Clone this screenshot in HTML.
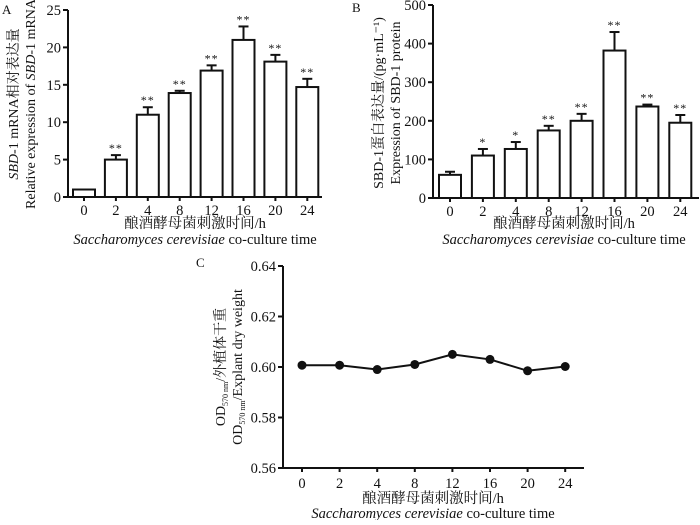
<!DOCTYPE html>
<html><head><meta charset="utf-8"><style>
body{margin:0;background:#fff;}
svg text{font-family:"Liberation Serif","Noto Serif CJK SC",serif;fill:#111;}
</style></head><body>
<svg width="700" height="520" viewBox="0 0 700 520" id="fig">
<g id="A"></g>
<g id="B"></g>
<g id="C"></g>
</svg>
<script>
const categories=["0","2","4","8","12","16","20","24"];
const mrnaValues=[1,5,11,13.9,16.9,21,18.1,14.7];
const mrnaErrors=[0,0.6,1,0.3,0.7,1.8,0.9,1.1];
const mrnaStars=["","**","**","**","**","**","**","**"];
const mrnaTicks=[0,5,10,15,20,25];
const protValues=[60,110,127,175,200,382,237,195];
const protErrors=[8,17,18,12,18,48,5,20];
const protStars=["","*","*","**","**","**","**","**"];
const protTicks=[0,100,200,300,400,500];
const odValues=[0.6007,0.6007,0.599,0.601,0.605,0.603,0.5985,0.6002];
const odTicks=[0.56,0.58,0.60,0.62,0.64];
const odTickLabels=["0.56","0.58","0.60","0.62","0.64"];

const NS="http://www.w3.org/2000/svg";
function mk(p,t,a,txt){const e=document.createElementNS(NS,t);for(const k in a)e.setAttribute(k,a[k]);if(txt!==undefined)e.textContent=txt;p.appendChild(e);return e;}

function barChart(g,o){
  const y=v=>o.y0-(v-o.vmin)/(o.vmax-o.vmin)*(o.y0-o.y1);
  const x=i=>o.x0c+i*o.step;
  o.vals.forEach((v,i)=>{
    const top=y(v+o.errs[i]);
    if(o.errs[i]>0){
      const l=mk(g,'line',{x1:x(i),x2:x(i),y1:y(v),y2:top,stroke:'#111','stroke-width':2});
      
      
      const c=mk(g,'line',{x1:x(i)-5,x2:x(i)+5,y1:top,y2:top,stroke:'#111','stroke-width':2});
      
      
    }
    const r=mk(g,'rect',{x:x(i)-11,y:y(v),width:22,height:o.y0-y(v),fill:'#fff',stroke:'#111','stroke-width':2});
    
    
    if(o.stars[i]){
      const s=mk(g,'text',{x:x(i),y:top-3,'text-anchor':'middle','font-size':12,'letter-spacing':1},o.stars[i]);
      
      
    }
    const t=mk(g,'line',{x1:x(i),x2:x(i),y1:o.y0,y2:o.y0+4,stroke:'#111','stroke-width':2});
    
    
    const tl=mk(g,'text',{x:x(i),y:o.y0+18,'text-anchor':'middle','font-size':14.5},categories[i]);
    
    
  });
  const ax=mk(g,'path',{d:`M${o.ax},${o.y1}V${o.y0}H${o.axEnd}`,fill:'none',stroke:'#111','stroke-width':2});
  
  
  o.ticks.forEach(v=>{
    const t=mk(g,'line',{x1:o.ax-5,x2:o.ax,y1:y(v),y2:y(v),stroke:'#111','stroke-width':2});
    
    
    const tl=mk(g,'text',{x:o.ax-7,y:y(v)+5,'text-anchor':'end','font-size':14.5},String(v));
    
    
  });
}

const A=document.getElementById('A');
barChart(A,{vals:mrnaValues,errs:mrnaErrors,stars:mrnaStars,ticks:mrnaTicks,vmin:0,vmax:25,y0:197,y1:10,ax:68,axEnd:322,x0c:84,step:31.9});
const B=document.getElementById('B');
barChart(B,{vals:protValues,errs:protErrors,stars:protStars,ticks:protTicks,vmin:0,vmax:500,y0:198,y1:5,ax:433,axEnd:699,x0c:450,step:32.9});

const C=document.getElementById('C');
const cy=v=>468-(v-0.56)/(0.64-0.56)*(468-266);
const cx=i=>302+i*37.6;
let d='';
odValues.forEach((v,i)=>{d+=(i?'L':'M')+cx(i)+','+cy(v);});
const line=mk(C,'path',{d:d,fill:'none',stroke:'#111','stroke-width':2});


odValues.forEach((v,i)=>{
  const p=mk(C,'circle',{cx:cx(i),cy:cy(v),r:4.5,fill:'#111'});
  
  
  const t=mk(C,'line',{x1:cx(i),x2:cx(i),y1:468,y2:472,stroke:'#111','stroke-width':2});
  
  
  const tl=mk(C,'text',{x:cx(i),y:488,'text-anchor':'middle','font-size':14.5},categories[i]);
  
  
});
const cax=mk(C,'path',{d:'M283,266V468H584',fill:'none',stroke:'#111','stroke-width':2});


odTicks.forEach((v,i)=>{
  const t=mk(C,'line',{x1:278,x2:283,y1:cy(v),y2:cy(v),stroke:'#111','stroke-width':2});
  
  
  const tl=mk(C,'text',{x:276,y:cy(v)+5,'text-anchor':'end','font-size':14.5},odTickLabels[i]);
  
  
});
</script>
<svg width="700" height="520" style="position:absolute;left:0;top:0">
<g font-family="Liberation Serif, Noto Serif CJK SC, serif" fill="#111">
<text x="2" y="14" font-size="13">A</text>
<text x="352" y="12" font-size="13">B</text>
<text x="196" y="267" font-size="13">C</text>
<text transform="translate(18,104) rotate(-90)" text-anchor="middle" font-size="14"><tspan font-style="italic">SBD</tspan>-1 mRNA相对表达量</text>
<text transform="translate(35,104) rotate(-90)" text-anchor="middle" font-size="14">Relative expression of <tspan font-style="italic">SBD</tspan>-1 mRNA</text>
<text x="195" y="228" text-anchor="middle" font-size="14.5">酿酒酵母菌刺激时间/h</text>
<text x="195" y="244" text-anchor="middle" font-size="14.5"><tspan font-style="italic">Saccharomyces cerevisiae</tspan> co-culture time</text>
<text transform="translate(383,103) rotate(-90)" text-anchor="middle" font-size="14">SBD-1蛋白表达量/(pg·mL⁻¹)</text>
<text transform="translate(400,103) rotate(-90)" text-anchor="middle" font-size="14">Expression of SBD-1 protein</text>
<text x="564" y="228" text-anchor="middle" font-size="14.5">酿酒酵母菌刺激时间/h</text>
<text x="564" y="244" text-anchor="middle" font-size="14.5"><tspan font-style="italic">Saccharomyces cerevisiae</tspan> co-culture time</text>
<text transform="translate(225,367) rotate(-90)" text-anchor="middle" font-size="14">OD<tspan font-size="8" dy="3">570 nm</tspan><tspan dy="-3">/外植体干重</tspan></text>
<text transform="translate(242,367) rotate(-90)" text-anchor="middle" font-size="14">OD<tspan font-size="8" dy="3">570 nm</tspan><tspan dy="-3">/Explant dry weight</tspan></text>
<text x="433" y="503" text-anchor="middle" font-size="14.5">酿酒酵母菌刺激时间/h</text>
<text x="433" y="518" text-anchor="middle" font-size="14.5"><tspan font-style="italic">Saccharomyces cerevisiae</tspan> co-culture time</text>
</g></svg>
</body></html>
